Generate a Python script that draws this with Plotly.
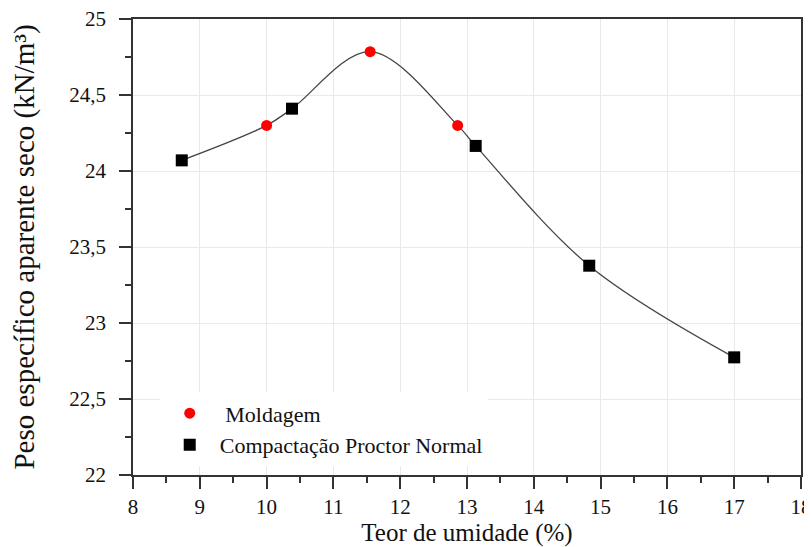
import plotly.graph_objects as go

# Data
mold_x = [10.0, 11.55, 12.86]
mold_y = [24.30, 24.785, 24.30]

proc_x = [8.73, 10.38, 13.13, 14.83, 17.0]
proc_y = [24.07, 24.41, 24.165, 23.377, 22.774]

x_ticks = [8, 9, 10, 11, 12, 13, 14, 15, 16, 17, 18]
y_ticks = [22, 22.5, 23, 23.5, 24, 24.5, 25]

# smooth curve through all points
pts = sorted(zip(mold_x + proc_x, mold_y + proc_y))
curve_x = [p[0] for p in pts]
curve_y = [p[1] for p in pts]

FONT = "'Liberation Serif', 'Times New Roman', Times, serif"

fig = go.Figure()
fig.add_trace(go.Scatter(x=curve_x, y=curve_y, mode="lines",
                         line=dict(color="#444444", width=1.3, shape="spline", smoothing=1.0),
                         showlegend=False, hoverinfo="skip"))
fig.add_trace(go.Scatter(x=mold_x, y=mold_y, mode="markers", name=" Moldagem",
                         marker=dict(symbol="circle", size=11, color="#ff0000")))
fig.add_trace(go.Scatter(x=proc_x, y=proc_y, mode="markers", name="Compactação Proctor Normal",
                         marker=dict(symbol="square", size=12, color="#000000")))

fig.update_layout(
    width=804, height=539,
    margin=dict(l=125, r=11, t=11, b=72),
    paper_bgcolor="white", plot_bgcolor="white",
    separators=", ",
    font=dict(family=FONT, color="#111111", size=20),
    legend=dict(x=0.04, y=0.1, xanchor="left", yanchor="middle",
                bgcolor="white", font=dict(family=FONT, size=22),
                itemwidth=50),
    xaxis=dict(range=[8, 18], tickvals=x_ticks, showgrid=True, gridcolor="#e9e9e9",
               gridwidth=1, zeroline=False, automargin=False,
               showline=True, linecolor="#333333", linewidth=1.5, mirror=True,
               ticks="outside", ticklen=12, tickwidth=1.5, tickcolor="#333333",
               minor=dict(dtick=0.5, ticks="outside", ticklen=6, tickwidth=1.5, tickcolor="#333333", showgrid=False),
               ticklabeloverflow="allow",
               title=dict(text="Teor de umidade (%)", font=dict(family=FONT, size=25), standoff=12),
               tickfont=dict(family=FONT, size=21)),
    yaxis=dict(range=[22, 25], tickvals=y_ticks, showgrid=True, gridcolor="#e9e9e9",
               gridwidth=1, zeroline=False, automargin=False,
               showline=True, linecolor="#333333", linewidth=1.5, mirror=True,
               ticks="outside", ticklen=12, tickwidth=1.5, tickcolor="#333333",
               minor=dict(dtick=0.25, ticks="outside", ticklen=6, tickwidth=1.5, tickcolor="#333333", showgrid=False),
               ticklabelstandoff=9, ticklabeloverflow="allow",
               title=dict(text="Peso específico aparente seco (kN/m³)", font=dict(family=FONT, size=29), standoff=32),
               tickfont=dict(family=FONT, size=21)),
)

fig.write_html("out.html")
